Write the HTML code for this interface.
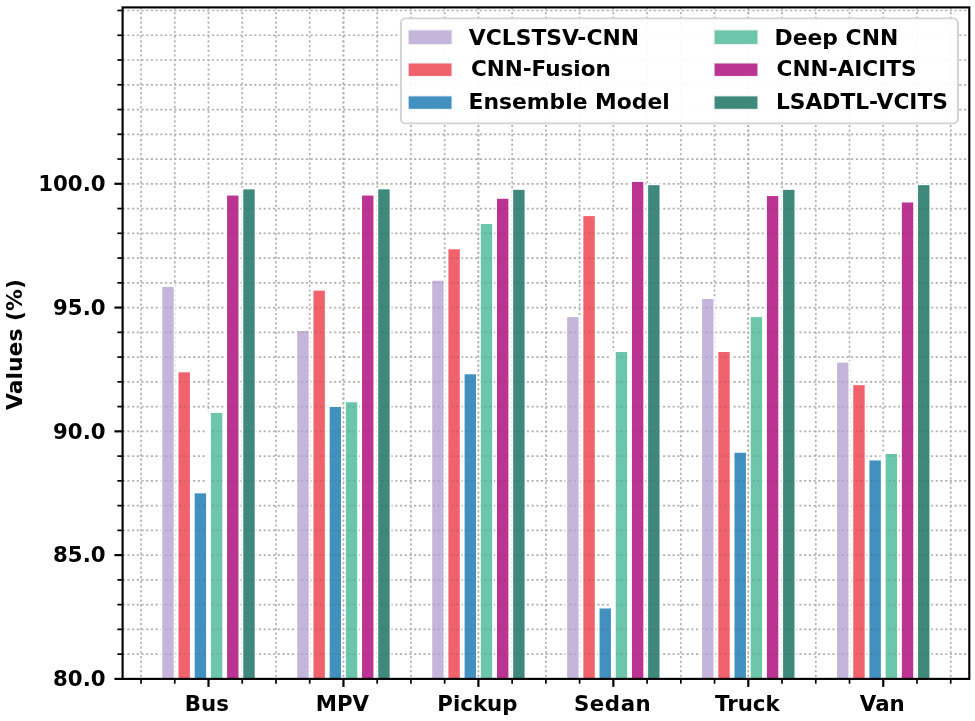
<!DOCTYPE html>
<html lang="en"><head><meta charset="utf-8"><title>Values (%) by vehicle class</title>
<style>html,body{margin:0;padding:0;background:#fff}body{width:975px;height:721px;overflow:hidden}svg{display:block;filter:blur(0.4px)}text{font-family:"DejaVu Sans","Liberation Sans",sans-serif;font-weight:bold;fill:#000}</style>
</head><body>
<svg width="975" height="721" viewBox="0 0 975 721">
<rect x="0" y="0" width="975" height="721" fill="#ffffff"/>
<defs><clipPath id="ax"><rect x="122.6" y="7.4" width="846.70" height="671.50"/></clipPath></defs>
<defs><clipPath id="bars"><rect x="162.32" y="286.90" width="11.40" height="392.00"/><rect x="178.51" y="372.31" width="11.40" height="306.59"/><rect x="194.70" y="493.36" width="11.40" height="185.54"/><rect x="210.90" y="412.91" width="11.40" height="265.99"/><rect x="227.09" y="195.56" width="11.40" height="483.34"/><rect x="243.28" y="189.37" width="11.40" height="489.53"/><rect x="297.26" y="330.97" width="11.40" height="347.93"/><rect x="313.46" y="290.62" width="11.40" height="388.28"/><rect x="329.65" y="406.97" width="11.40" height="271.93"/><rect x="345.85" y="402.26" width="11.40" height="276.64"/><rect x="362.04" y="195.56" width="11.40" height="483.34"/><rect x="378.24" y="189.37" width="11.40" height="489.53"/><rect x="432.21" y="280.72" width="11.40" height="398.18"/><rect x="448.41" y="249.28" width="11.40" height="429.62"/><rect x="464.60" y="374.29" width="11.40" height="304.61"/><rect x="480.80" y="224.03" width="11.40" height="454.87"/><rect x="496.99" y="198.78" width="11.40" height="480.12"/><rect x="513.18" y="189.86" width="11.40" height="489.04"/><rect x="567.16" y="317.11" width="11.40" height="361.79"/><rect x="583.36" y="216.11" width="11.40" height="462.79"/><rect x="599.55" y="608.47" width="11.40" height="70.43"/><rect x="615.75" y="352.01" width="11.40" height="326.89"/><rect x="631.94" y="181.94" width="11.40" height="496.96"/><rect x="648.13" y="185.16" width="11.40" height="493.74"/><rect x="702.11" y="299.03" width="11.40" height="379.87"/><rect x="718.31" y="352.01" width="11.40" height="326.89"/><rect x="734.50" y="452.76" width="11.40" height="226.14"/><rect x="750.70" y="317.11" width="11.40" height="361.79"/><rect x="766.89" y="196.05" width="11.40" height="482.85"/><rect x="783.08" y="189.86" width="11.40" height="489.04"/><rect x="837.06" y="362.65" width="11.40" height="316.25"/><rect x="853.26" y="385.18" width="11.40" height="293.72"/><rect x="869.45" y="460.44" width="11.40" height="218.46"/><rect x="885.65" y="454.00" width="11.40" height="224.90"/><rect x="901.84" y="202.49" width="11.40" height="476.41"/><rect x="918.03" y="185.16" width="11.40" height="493.74"/></clipPath></defs>
<g clip-path="url(#ax)" stroke="#b2b2b2" stroke-width="1.7" stroke-dasharray="2.2 2.5" fill="none">
<line x1="141.03" y1="7.4" x2="141.03" y2="678.9"/>
<line x1="174.76" y1="7.4" x2="174.76" y2="678.9"/>
<line x1="208.50" y1="7.4" x2="208.50" y2="678.9"/>
<line x1="242.24" y1="7.4" x2="242.24" y2="678.9"/>
<line x1="275.98" y1="7.4" x2="275.98" y2="678.9"/>
<line x1="309.71" y1="7.4" x2="309.71" y2="678.9"/>
<line x1="343.45" y1="7.4" x2="343.45" y2="678.9"/>
<line x1="377.19" y1="7.4" x2="377.19" y2="678.9"/>
<line x1="410.92" y1="7.4" x2="410.92" y2="678.9"/>
<line x1="444.66" y1="7.4" x2="444.66" y2="678.9"/>
<line x1="478.40" y1="7.4" x2="478.40" y2="678.9"/>
<line x1="512.14" y1="7.4" x2="512.14" y2="678.9"/>
<line x1="545.88" y1="7.4" x2="545.88" y2="678.9"/>
<line x1="579.61" y1="7.4" x2="579.61" y2="678.9"/>
<line x1="613.35" y1="7.4" x2="613.35" y2="678.9"/>
<line x1="647.09" y1="7.4" x2="647.09" y2="678.9"/>
<line x1="680.82" y1="7.4" x2="680.82" y2="678.9"/>
<line x1="714.56" y1="7.4" x2="714.56" y2="678.9"/>
<line x1="748.30" y1="7.4" x2="748.30" y2="678.9"/>
<line x1="782.04" y1="7.4" x2="782.04" y2="678.9"/>
<line x1="815.77" y1="7.4" x2="815.77" y2="678.9"/>
<line x1="849.51" y1="7.4" x2="849.51" y2="678.9"/>
<line x1="883.25" y1="7.4" x2="883.25" y2="678.9"/>
<line x1="916.99" y1="7.4" x2="916.99" y2="678.9"/>
<line x1="950.72" y1="7.4" x2="950.72" y2="678.9"/>
<line x1="122.6" y1="654.14" x2="969.3" y2="654.14"/>
<line x1="122.6" y1="629.39" x2="969.3" y2="629.39"/>
<line x1="122.6" y1="604.63" x2="969.3" y2="604.63"/>
<line x1="122.6" y1="579.88" x2="969.3" y2="579.88"/>
<line x1="122.6" y1="555.12" x2="969.3" y2="555.12"/>
<line x1="122.6" y1="530.37" x2="969.3" y2="530.37"/>
<line x1="122.6" y1="505.62" x2="969.3" y2="505.62"/>
<line x1="122.6" y1="480.86" x2="969.3" y2="480.86"/>
<line x1="122.6" y1="456.11" x2="969.3" y2="456.11"/>
<line x1="122.6" y1="431.35" x2="969.3" y2="431.35"/>
<line x1="122.6" y1="406.59" x2="969.3" y2="406.59"/>
<line x1="122.6" y1="381.84" x2="969.3" y2="381.84"/>
<line x1="122.6" y1="357.08" x2="969.3" y2="357.08"/>
<line x1="122.6" y1="332.33" x2="969.3" y2="332.33"/>
<line x1="122.6" y1="307.57" x2="969.3" y2="307.57"/>
<line x1="122.6" y1="282.82" x2="969.3" y2="282.82"/>
<line x1="122.6" y1="258.06" x2="969.3" y2="258.06"/>
<line x1="122.6" y1="233.31" x2="969.3" y2="233.31"/>
<line x1="122.6" y1="208.56" x2="969.3" y2="208.56"/>
<line x1="122.6" y1="183.80" x2="969.3" y2="183.80"/>
<line x1="122.6" y1="159.04" x2="969.3" y2="159.04"/>
<line x1="122.6" y1="134.29" x2="969.3" y2="134.29"/>
<line x1="122.6" y1="109.53" x2="969.3" y2="109.53"/>
<line x1="122.6" y1="84.78" x2="969.3" y2="84.78"/>
<line x1="122.6" y1="60.02" x2="969.3" y2="60.02"/>
<line x1="122.6" y1="35.27" x2="969.3" y2="35.27"/>
<line x1="122.6" y1="10.51" x2="969.3" y2="10.51"/>
</g>
<g>
<rect x="160.51" y="285.10" width="15.00" height="393.80" fill="#ffffff" fill-opacity="0.92"/>
<rect x="176.71" y="370.51" width="15.00" height="308.39" fill="#ffffff" fill-opacity="0.92"/>
<rect x="192.90" y="491.56" width="15.00" height="187.34" fill="#ffffff" fill-opacity="0.92"/>
<rect x="209.10" y="411.11" width="15.00" height="267.79" fill="#ffffff" fill-opacity="0.92"/>
<rect x="225.29" y="193.76" width="15.00" height="485.14" fill="#ffffff" fill-opacity="0.92"/>
<rect x="241.49" y="187.57" width="15.00" height="491.33" fill="#ffffff" fill-opacity="0.92"/>
<rect x="295.46" y="329.17" width="15.00" height="349.73" fill="#ffffff" fill-opacity="0.92"/>
<rect x="311.66" y="288.82" width="15.00" height="390.08" fill="#ffffff" fill-opacity="0.92"/>
<rect x="327.85" y="405.17" width="15.00" height="273.73" fill="#ffffff" fill-opacity="0.92"/>
<rect x="344.05" y="400.46" width="15.00" height="278.44" fill="#ffffff" fill-opacity="0.92"/>
<rect x="360.24" y="193.76" width="15.00" height="485.14" fill="#ffffff" fill-opacity="0.92"/>
<rect x="376.44" y="187.57" width="15.00" height="491.33" fill="#ffffff" fill-opacity="0.92"/>
<rect x="430.41" y="278.92" width="15.00" height="399.98" fill="#ffffff" fill-opacity="0.92"/>
<rect x="446.61" y="247.48" width="15.00" height="431.42" fill="#ffffff" fill-opacity="0.92"/>
<rect x="462.80" y="372.49" width="15.00" height="306.41" fill="#ffffff" fill-opacity="0.92"/>
<rect x="479.00" y="222.23" width="15.00" height="456.67" fill="#ffffff" fill-opacity="0.92"/>
<rect x="495.19" y="196.98" width="15.00" height="481.92" fill="#ffffff" fill-opacity="0.92"/>
<rect x="511.38" y="188.06" width="15.00" height="490.84" fill="#ffffff" fill-opacity="0.92"/>
<rect x="565.36" y="315.31" width="15.00" height="363.59" fill="#ffffff" fill-opacity="0.92"/>
<rect x="581.56" y="214.31" width="15.00" height="464.59" fill="#ffffff" fill-opacity="0.92"/>
<rect x="597.75" y="606.67" width="15.00" height="72.23" fill="#ffffff" fill-opacity="0.92"/>
<rect x="613.95" y="350.21" width="15.00" height="328.69" fill="#ffffff" fill-opacity="0.92"/>
<rect x="630.14" y="180.14" width="15.00" height="498.76" fill="#ffffff" fill-opacity="0.92"/>
<rect x="646.33" y="183.36" width="15.00" height="495.54" fill="#ffffff" fill-opacity="0.92"/>
<rect x="700.31" y="297.23" width="15.00" height="381.67" fill="#ffffff" fill-opacity="0.92"/>
<rect x="716.51" y="350.21" width="15.00" height="328.69" fill="#ffffff" fill-opacity="0.92"/>
<rect x="732.70" y="450.96" width="15.00" height="227.94" fill="#ffffff" fill-opacity="0.92"/>
<rect x="748.90" y="315.31" width="15.00" height="363.59" fill="#ffffff" fill-opacity="0.92"/>
<rect x="765.09" y="194.25" width="15.00" height="484.65" fill="#ffffff" fill-opacity="0.92"/>
<rect x="781.28" y="188.06" width="15.00" height="490.84" fill="#ffffff" fill-opacity="0.92"/>
<rect x="835.26" y="360.85" width="15.00" height="318.05" fill="#ffffff" fill-opacity="0.92"/>
<rect x="851.46" y="383.38" width="15.00" height="295.52" fill="#ffffff" fill-opacity="0.92"/>
<rect x="867.65" y="458.64" width="15.00" height="220.26" fill="#ffffff" fill-opacity="0.92"/>
<rect x="883.85" y="452.20" width="15.00" height="226.70" fill="#ffffff" fill-opacity="0.92"/>
<rect x="900.04" y="200.69" width="15.00" height="478.21" fill="#ffffff" fill-opacity="0.92"/>
<rect x="916.24" y="183.36" width="15.00" height="495.54" fill="#ffffff" fill-opacity="0.92"/>
<g clip-path="url(#ax)" stroke="#b2b2b2" stroke-width="1.7" stroke-dasharray="2.2 2.5" fill="none">
<line x1="343.45" y1="7.4" x2="343.45" y2="678.9"/>
<line x1="478.40" y1="7.4" x2="478.40" y2="678.9"/>
<line x1="748.30" y1="7.4" x2="748.30" y2="678.9"/>
</g>
<rect x="205.90" y="411.91" width="5.2" height="266.99" fill="#ffffff"/>
<rect x="610.75" y="351.01" width="5.2" height="327.89" fill="#ffffff"/>
<rect x="880.65" y="453.00" width="5.2" height="225.90" fill="#ffffff"/>
<rect x="162.31" y="286.90" width="11.40" height="392.00" fill="#C6B5DB"/>
<rect x="178.51" y="372.31" width="11.40" height="306.59" fill="#F0626C"/>
<rect x="194.70" y="493.36" width="11.40" height="185.54" fill="#4190C0"/>
<rect x="210.90" y="412.91" width="11.40" height="265.99" fill="#6CC6AB"/>
<rect x="227.09" y="195.56" width="11.40" height="483.34" fill="#BC3492"/>
<rect x="243.29" y="189.37" width="11.40" height="489.53" fill="#3E897C"/>
<rect x="297.26" y="330.97" width="11.40" height="347.93" fill="#C6B5DB"/>
<rect x="313.46" y="290.62" width="11.40" height="388.28" fill="#F0626C"/>
<rect x="329.65" y="406.97" width="11.40" height="271.93" fill="#4190C0"/>
<rect x="345.85" y="402.26" width="11.40" height="276.64" fill="#6CC6AB"/>
<rect x="362.04" y="195.56" width="11.40" height="483.34" fill="#BC3492"/>
<rect x="378.24" y="189.37" width="11.40" height="489.53" fill="#3E897C"/>
<rect x="432.21" y="280.72" width="11.40" height="398.18" fill="#C6B5DB"/>
<rect x="448.41" y="249.28" width="11.40" height="429.62" fill="#F0626C"/>
<rect x="464.60" y="374.29" width="11.40" height="304.61" fill="#4190C0"/>
<rect x="480.80" y="224.03" width="11.40" height="454.87" fill="#6CC6AB"/>
<rect x="496.99" y="198.78" width="11.40" height="480.12" fill="#BC3492"/>
<rect x="513.18" y="189.86" width="11.40" height="489.04" fill="#3E897C"/>
<rect x="567.16" y="317.11" width="11.40" height="361.79" fill="#C6B5DB"/>
<rect x="583.36" y="216.11" width="11.40" height="462.79" fill="#F0626C"/>
<rect x="599.55" y="608.47" width="11.40" height="70.43" fill="#4190C0"/>
<rect x="615.75" y="352.01" width="11.40" height="326.89" fill="#6CC6AB"/>
<rect x="631.94" y="181.94" width="11.40" height="496.96" fill="#BC3492"/>
<rect x="648.13" y="185.16" width="11.40" height="493.74" fill="#3E897C"/>
<rect x="702.11" y="299.03" width="11.40" height="379.87" fill="#C6B5DB"/>
<rect x="718.31" y="352.01" width="11.40" height="326.89" fill="#F0626C"/>
<rect x="734.50" y="452.76" width="11.40" height="226.14" fill="#4190C0"/>
<rect x="750.70" y="317.11" width="11.40" height="361.79" fill="#6CC6AB"/>
<rect x="766.89" y="196.05" width="11.40" height="482.85" fill="#BC3492"/>
<rect x="783.08" y="189.86" width="11.40" height="489.04" fill="#3E897C"/>
<rect x="837.06" y="362.65" width="11.40" height="316.25" fill="#C6B5DB"/>
<rect x="853.26" y="385.18" width="11.40" height="293.72" fill="#F0626C"/>
<rect x="869.45" y="460.44" width="11.40" height="218.46" fill="#4190C0"/>
<rect x="885.65" y="454.00" width="11.40" height="224.90" fill="#6CC6AB"/>
<rect x="901.84" y="202.49" width="11.40" height="476.41" fill="#BC3492"/>
<rect x="918.03" y="185.16" width="11.40" height="493.74" fill="#3E897C"/>
</g>
<g clip-path="url(#bars)" stroke="#333" stroke-opacity="0.13" stroke-width="1.7" stroke-dasharray="2.2 2.5" fill="none">
<line x1="122.6" y1="654.14" x2="969.3" y2="654.14"/>
<line x1="122.6" y1="629.39" x2="969.3" y2="629.39"/>
<line x1="122.6" y1="604.63" x2="969.3" y2="604.63"/>
<line x1="122.6" y1="579.88" x2="969.3" y2="579.88"/>
<line x1="122.6" y1="555.12" x2="969.3" y2="555.12"/>
<line x1="122.6" y1="530.37" x2="969.3" y2="530.37"/>
<line x1="122.6" y1="505.62" x2="969.3" y2="505.62"/>
<line x1="122.6" y1="480.86" x2="969.3" y2="480.86"/>
<line x1="122.6" y1="456.11" x2="969.3" y2="456.11"/>
<line x1="122.6" y1="431.35" x2="969.3" y2="431.35"/>
<line x1="122.6" y1="406.59" x2="969.3" y2="406.59"/>
<line x1="122.6" y1="381.84" x2="969.3" y2="381.84"/>
<line x1="122.6" y1="357.08" x2="969.3" y2="357.08"/>
<line x1="122.6" y1="332.33" x2="969.3" y2="332.33"/>
<line x1="122.6" y1="307.57" x2="969.3" y2="307.57"/>
<line x1="122.6" y1="282.82" x2="969.3" y2="282.82"/>
<line x1="122.6" y1="258.06" x2="969.3" y2="258.06"/>
<line x1="122.6" y1="233.31" x2="969.3" y2="233.31"/>
<line x1="122.6" y1="208.56" x2="969.3" y2="208.56"/>
<line x1="122.6" y1="183.80" x2="969.3" y2="183.80"/>
<line x1="122.6" y1="159.04" x2="969.3" y2="159.04"/>
<line x1="122.6" y1="134.29" x2="969.3" y2="134.29"/>
<line x1="122.6" y1="109.53" x2="969.3" y2="109.53"/>
<line x1="122.6" y1="84.78" x2="969.3" y2="84.78"/>
<line x1="122.6" y1="60.02" x2="969.3" y2="60.02"/>
<line x1="122.6" y1="35.27" x2="969.3" y2="35.27"/>
<line x1="122.6" y1="10.51" x2="969.3" y2="10.51"/>
</g>
<rect x="122.6" y="7.4" width="846.70" height="671.50" fill="none" stroke="#000" stroke-width="2.15"/>
<g stroke="#000" fill="none">
<line x1="141.03" y1="678.9" x2="141.03" y2="683.6999999999999" stroke-width="1.7"/>
<line x1="174.76" y1="678.9" x2="174.76" y2="683.6999999999999" stroke-width="1.7"/>
<line x1="208.50" y1="678.9" x2="208.50" y2="686.9" stroke-width="2.2"/>
<line x1="242.24" y1="678.9" x2="242.24" y2="683.6999999999999" stroke-width="1.7"/>
<line x1="275.98" y1="678.9" x2="275.98" y2="683.6999999999999" stroke-width="1.7"/>
<line x1="309.71" y1="678.9" x2="309.71" y2="683.6999999999999" stroke-width="1.7"/>
<line x1="343.45" y1="678.9" x2="343.45" y2="686.9" stroke-width="2.2"/>
<line x1="377.19" y1="678.9" x2="377.19" y2="683.6999999999999" stroke-width="1.7"/>
<line x1="410.92" y1="678.9" x2="410.92" y2="683.6999999999999" stroke-width="1.7"/>
<line x1="444.66" y1="678.9" x2="444.66" y2="683.6999999999999" stroke-width="1.7"/>
<line x1="478.40" y1="678.9" x2="478.40" y2="686.9" stroke-width="2.2"/>
<line x1="512.14" y1="678.9" x2="512.14" y2="683.6999999999999" stroke-width="1.7"/>
<line x1="545.88" y1="678.9" x2="545.88" y2="683.6999999999999" stroke-width="1.7"/>
<line x1="579.61" y1="678.9" x2="579.61" y2="683.6999999999999" stroke-width="1.7"/>
<line x1="613.35" y1="678.9" x2="613.35" y2="686.9" stroke-width="2.2"/>
<line x1="647.09" y1="678.9" x2="647.09" y2="683.6999999999999" stroke-width="1.7"/>
<line x1="680.82" y1="678.9" x2="680.82" y2="683.6999999999999" stroke-width="1.7"/>
<line x1="714.56" y1="678.9" x2="714.56" y2="683.6999999999999" stroke-width="1.7"/>
<line x1="748.30" y1="678.9" x2="748.30" y2="686.9" stroke-width="2.2"/>
<line x1="782.04" y1="678.9" x2="782.04" y2="683.6999999999999" stroke-width="1.7"/>
<line x1="815.77" y1="678.9" x2="815.77" y2="683.6999999999999" stroke-width="1.7"/>
<line x1="849.51" y1="678.9" x2="849.51" y2="683.6999999999999" stroke-width="1.7"/>
<line x1="883.25" y1="678.9" x2="883.25" y2="686.9" stroke-width="2.2"/>
<line x1="916.99" y1="678.9" x2="916.99" y2="683.6999999999999" stroke-width="1.7"/>
<line x1="950.72" y1="678.9" x2="950.72" y2="683.6999999999999" stroke-width="1.7"/>
<line x1="122.6" y1="678.90" x2="114.39999999999999" y2="678.90" stroke-width="2.2"/>
<line x1="122.6" y1="654.14" x2="117.39999999999999" y2="654.14" stroke-width="1.7"/>
<line x1="122.6" y1="629.39" x2="117.39999999999999" y2="629.39" stroke-width="1.7"/>
<line x1="122.6" y1="604.63" x2="117.39999999999999" y2="604.63" stroke-width="1.7"/>
<line x1="122.6" y1="579.88" x2="117.39999999999999" y2="579.88" stroke-width="1.7"/>
<line x1="122.6" y1="555.12" x2="114.39999999999999" y2="555.12" stroke-width="2.2"/>
<line x1="122.6" y1="530.37" x2="117.39999999999999" y2="530.37" stroke-width="1.7"/>
<line x1="122.6" y1="505.62" x2="117.39999999999999" y2="505.62" stroke-width="1.7"/>
<line x1="122.6" y1="480.86" x2="117.39999999999999" y2="480.86" stroke-width="1.7"/>
<line x1="122.6" y1="456.11" x2="117.39999999999999" y2="456.11" stroke-width="1.7"/>
<line x1="122.6" y1="431.35" x2="114.39999999999999" y2="431.35" stroke-width="2.2"/>
<line x1="122.6" y1="406.59" x2="117.39999999999999" y2="406.59" stroke-width="1.7"/>
<line x1="122.6" y1="381.84" x2="117.39999999999999" y2="381.84" stroke-width="1.7"/>
<line x1="122.6" y1="357.08" x2="117.39999999999999" y2="357.08" stroke-width="1.7"/>
<line x1="122.6" y1="332.33" x2="117.39999999999999" y2="332.33" stroke-width="1.7"/>
<line x1="122.6" y1="307.57" x2="114.39999999999999" y2="307.57" stroke-width="2.2"/>
<line x1="122.6" y1="282.82" x2="117.39999999999999" y2="282.82" stroke-width="1.7"/>
<line x1="122.6" y1="258.06" x2="117.39999999999999" y2="258.06" stroke-width="1.7"/>
<line x1="122.6" y1="233.31" x2="117.39999999999999" y2="233.31" stroke-width="1.7"/>
<line x1="122.6" y1="208.56" x2="117.39999999999999" y2="208.56" stroke-width="1.7"/>
<line x1="122.6" y1="183.80" x2="114.39999999999999" y2="183.80" stroke-width="2.2"/>
<line x1="122.6" y1="159.04" x2="117.39999999999999" y2="159.04" stroke-width="1.7"/>
<line x1="122.6" y1="134.29" x2="117.39999999999999" y2="134.29" stroke-width="1.7"/>
<line x1="122.6" y1="109.53" x2="117.39999999999999" y2="109.53" stroke-width="1.7"/>
<line x1="122.6" y1="84.78" x2="117.39999999999999" y2="84.78" stroke-width="1.7"/>
<line x1="122.6" y1="60.02" x2="117.39999999999999" y2="60.02" stroke-width="1.7"/>
<line x1="122.6" y1="35.27" x2="117.39999999999999" y2="35.27" stroke-width="1.7"/>
<line x1="122.6" y1="10.51" x2="117.39999999999999" y2="10.51" stroke-width="1.7"/>
</g>
<g font-size="21.3">
<text x="105.6" y="686.10" text-anchor="end">80.0</text>
<text x="105.6" y="562.33" text-anchor="end">85.0</text>
<text x="105.6" y="438.55" text-anchor="end">90.0</text>
<text x="105.6" y="314.77" text-anchor="end">95.0</text>
<text x="105.6" y="191.00" text-anchor="end">100.0</text>
<text x="206.80" y="711.3" text-anchor="middle">Bus</text>
<text x="342.45" y="711.3" text-anchor="middle">MPV</text>
<text x="477.40" y="711.3" text-anchor="middle">Pickup</text>
<text x="612.65" y="711.3" text-anchor="middle" letter-spacing="0.55">Sedan</text>
<text x="747.30" y="711.3" text-anchor="middle">Truck</text>
<text x="882.25" y="711.3" text-anchor="middle">Van</text>
<text transform="translate(22.2 344.5) rotate(-90)" text-anchor="middle" font-size="21.85">Values (%)</text>
</g>
<g>
<rect x="400.9" y="18.4" width="557.0" height="105.0" rx="4.5" ry="4.5" fill="#ffffff" fill-opacity="0.92" stroke="#d2d2d2" stroke-width="1.9"/>
<rect x="407.7" y="29.40" width="44.8" height="15.6" fill="#f1f1f1"/>
<rect x="408.7" y="30.40" width="42.8" height="13.6" fill="#C6B5DB"/>
<text x="468.80" y="44.6" font-size="21.85">VCLSTSV-CNN</text>
<rect x="407.7" y="62.50" width="44.8" height="14.4" fill="#f1f1f1"/>
<rect x="408.7" y="63.50" width="42.8" height="12.4" fill="#F0626C"/>
<text x="470.90" y="76.1" font-size="21.52">CNN-Fusion</text>
<rect x="407.7" y="95.40" width="44.8" height="14.4" fill="#f1f1f1"/>
<rect x="408.7" y="96.40" width="42.8" height="12.4" fill="#4190C0"/>
<text x="468.50" y="108.9" font-size="21.85">Ensemble Model</text>
<rect x="713.6" y="29.40" width="44.8" height="15.6" fill="#f1f1f1"/>
<rect x="714.6" y="30.40" width="42.8" height="13.6" fill="#6CC6AB"/>
<text x="774.60" y="44.6" font-size="21.85">Deep CNN</text>
<rect x="713.6" y="62.50" width="44.8" height="14.4" fill="#f1f1f1"/>
<rect x="714.6" y="63.50" width="42.8" height="12.4" fill="#BC3492"/>
<text x="776.60" y="76.1" font-size="21.60">CNN-AICITS</text>
<rect x="713.6" y="95.40" width="44.8" height="14.4" fill="#f1f1f1"/>
<rect x="714.6" y="96.40" width="42.8" height="12.4" fill="#3E897C"/>
<text x="776.00" y="108.9" font-size="21.76">LSADTL-VCITS</text>
</g>
</svg>
</body></html>
